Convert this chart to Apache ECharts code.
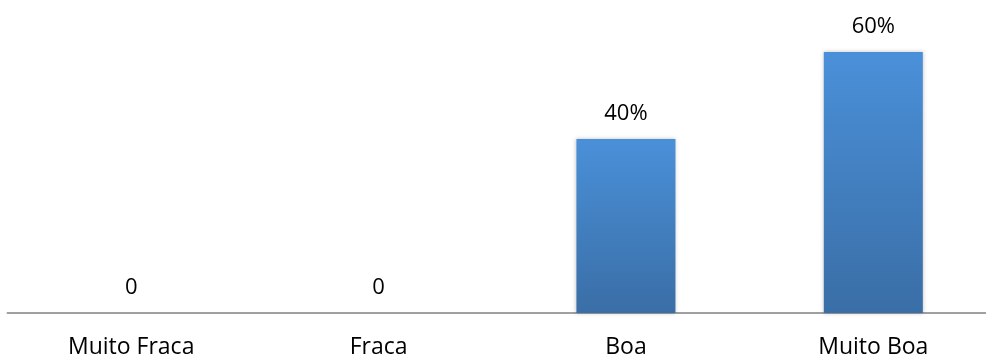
<!DOCTYPE html>
<html><head><meta charset="utf-8">
<script src="https://cdn.jsdelivr.net/npm/echarts@6/dist/echarts.min.js"></script>
<style>html,body{margin:0;padding:0;background:#fff;overflow:hidden}#c{width:997px;height:358px}</style>
</head><body><div id="c"></div>
<script>
const categories = ["Muito Fraca", "Fraca", "Boa", "Muito Boa"];
const values = [0, 0, 40, 60];
const chart = echarts.init(document.getElementById('c'));
chart.setOption({
  animation: false,
  grid: { left: 7.5, right: 0, top: 8.5, bottom: 45, outerBoundsMode: 'none', containLabel: false },
  xAxis: {
    type: 'category', data: categories,
    axisLine: { lineStyle: { color: '#a0a0a0', width: 2 } },
    axisTick: { show: false },
    axisLabel: { color: '#000', fontFamily: 'Open Sans', fontSize: 23, margin: 23 }
  },
  yAxis: { type: 'value', min: 0, max: 70, show: false, splitLine: { show: false } },
  series: [{
    type: 'bar', data: values, barWidth: 99,
    itemStyle: {
      color: new echarts.graphic.LinearGradient(0, 0, 0, 1, [
        { offset: 0, color: '#4a90d9' }, { offset: 1, color: '#3a6ea6' }
      ]),
      shadowBlur: 4, shadowColor: 'rgba(0,0,0,0.25)'
    },
    label: {
      show: true, position: 'top', distance: 14, color: '#000',
      fontFamily: 'Open Sans', fontSize: 22,
      formatter: p => p.value === 0 ? '0' : p.value + '%'
    }
  }]
});
</script></body></html>
